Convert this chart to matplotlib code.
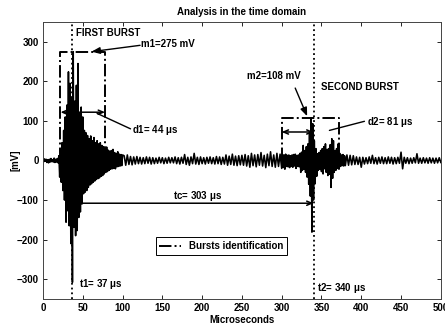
import matplotlib
matplotlib.use("Agg")
import matplotlib.pyplot as plt
import numpy as np

plt.rcParams['font.family'] = ['Liberation Sans', 'DejaVu Sans']
plt.rcParams['font.weight'] = 'bold'
plt.rcParams['mathtext.default'] = 'regular'

# signal, alternating local peaks (mV)
# segment: (start us, step us, values)
seg_pre = [2, -3, 4, -2, 3, -5, 2, -6, 3, -4, 5, -3, 2, -4, 6, -5, 3, -4, 5, -6]
seg_burst1 = [12, -42, 30, -55, 45, -76, 76, -100, 110, -156,
              140, -127, 224, -165, 195, -210, 160, -308, 275, -169,
              150, -190, 190, -177, 245, -144, 120, -130, 135, -110,
              110, -84, 76, -80, 70, -76, 63, -68, 55, -62,
              62, -59, 50, -55, 58, -52, 45, -48, 50, -46,
              42, -44, 45, -40, 38, -38, 35, -34, 30, -30,
              34, -28, 26, -25, 24, -22, 25, -21, 28, -20,
              20, -21, 18, -16, 22, -15, 16, -14, 15, -13, 14]
seg_mid = [12, -12, 14, -10, 10, -11, 9, -9, 10, -8,
           8, -9, 7, -8, 9, -7, 8, -9, 7, -8,
           6, -7, 8, -6, 7, -8, 6, -7, 8, -6,
           7, -6, 9, -8, 7, -9, 8, -7, 15, -10,
           8, -12, 9, -8, 18, -9, 8, -10, 9, -8,
           7, -9, 8, -7, 9, -8, 7, -9, 10, -8,
           9, -10, 8, -9, 14, -12, 11, -10, 16, -12,
           11, -13, 12, -11, 13, -12, 15, -14, 12, -17,
           18, -13, 14, -16, 15, -12, 20, -14, 13, -18,
           16, -13, 22, -15, 14, -17, 18, -15, 16]
seg_burst2 = [-20, 15, -18, 14, -22, 16, -15, 13, -16, 14,
              -18, 12, -15, 14, -17, 15, -14, 16, -20, 13,
              -15, 14, -16, 18, -30, 21, -25, 38, -22, 25,
              -30, 35, -42, 42, -60, 70, -90, 108, -181, 93,
              -100, 50, -59, 30, -40, 17, -25, 20, -22, 25,
              -28, 30, -34, 35, -21, 42, -30, 28, -38, 30,
              -35, 40, -68, 55, -45, 50, -30, 25, -25, 30,
              -20, 42, -22, 18, -15, 14, -13, 15, -14, 12, -13]
seg_post = [14, -12, 13, -11, 12, -10, 9, -10, 8, -17,
            8, -9, 7, -8, 9, -7, 13, -8, 7, -9,
            8, -7, 9, -8, 7, -8, 9, -7, 8, -9,
            7, -8, 8, -7, 21, -21, 8, -7, 7, -8,
            6, -7, 7, -6, 17, -7, 6, -7, 7, -6,
            6, -7, 7, -6, 6, -7, 6, -6, 7, -5]
segments = [(0, 1, seg_pre), (20, 1, seg_burst1), (102, 2, seg_mid),
            (300, 1, seg_burst2), (382, 2, seg_post)]

t_us = np.concatenate([s + d * np.arange(len(v)) for s, d, v in segments])
v_mv = np.concatenate([np.array(v, float) for s, d, v in segments])

# burst boxes: (start, end, max)
box1 = (22, 78, 275)
box2 = (300, 372, 108)
t1, t2 = 37, 340

fig = plt.figure(figsize=(4.45, 3.29), dpi=100)
ax = fig.add_axes([0.0966, 0.0912, 0.894, 0.842])

ax.plot(t_us, v_mv, color='black', lw=1.15)

for i, (a, b, m) in enumerate([box1, box2]):
    ax.plot([a, a, b, b], [0, m, m, 0], color='black', lw=1.4, ls='-.',
            label='Bursts identification' if i == 0 else None)

ax.axvline(t1, color='black', ls=':', lw=1.3)
ax.axvline(t2, color='black', ls=':', lw=1.3)

arr = dict(arrowstyle='<->,head_length=0.35,head_width=0.15', color='black', lw=1.1,
           shrinkA=0, shrinkB=0)
ax.annotate('', xy=(box1[0], 122), xytext=(box1[1], 122), arrowprops=arr)
ax.annotate('', xy=(box2[0], 72), xytext=(t2, 72), arrowprops=arr)
ax.annotate('', xy=(t1, -108), xytext=(t2, -108), arrowprops=arr)

fs = 7
one = dict(arrowstyle='-|>,head_length=0.5,head_width=0.2', color='black', lw=1.0,
           shrinkA=0, shrinkB=0)
plain = dict(arrowstyle='-', color='black', lw=1.0, shrinkA=0, shrinkB=0)

ax.text(41, 322, 'FIRST BURST', fontsize=fs, fontweight='bold', va='center')
ax.text(123, 294, 'm1=275 mV', fontsize=fs, fontweight='bold', va='center')
ax.annotate('', xy=(61, 275), xytext=(122, 291), arrowprops=one)
ax.text(112, 76, 'd1= 44 $\\mu$s', fontsize=fs, fontweight='bold', va='center')
ax.annotate('', xy=(68, 119), xytext=(110, 80), arrowprops=plain)

ax.text(350, 186, 'SECOND BURST', fontsize=fs, fontweight='bold', va='center')
ax.text(256, 214, 'm2=108 mV', fontsize=fs, fontweight='bold', va='center')
ax.annotate('', xy=(332, 112), xytext=(317, 183), arrowprops=one)
ax.text(407, 97, 'd2= 81 $\\mu$s', fontsize=fs, fontweight='bold', va='center')
ax.annotate('', xy=(360, 76), xytext=(404, 99), arrowprops=plain)

ax.text(194, -91, 'tc= 303 $\\mu$s', fontsize=fs, fontweight='bold', ha='center', va='center')
ax.text(45, -312, 't1= 37 $\\mu$s', fontsize=fs, fontweight='bold', va='center')
ax.text(344, -322, 't2= 340 $\\mu$s', fontsize=fs, fontweight='bold', va='center')

ax.set_xlim(0, 500)
ax.set_ylim(-350, 350)
ax.set_xticks(np.arange(0, 501, 50))
ax.set_yticks(np.arange(-300, 301, 100))
ax.tick_params(direction='in', top=True, right=True, length=3, width=0.6,
               labelsize=fs, pad=3)
for lab in ax.get_xticklabels() + ax.get_yticklabels():
    lab.set_fontweight('bold')
for sp in ax.spines.values():
    sp.set_linewidth(0.7)
    sp.set_color('#444444')

ax.set_title('Analysis in the time domain', fontsize=fs, fontweight='bold', pad=5)
ax.set_xlabel('Microseconds', fontsize=fs, fontweight='bold', labelpad=1)
ax.set_ylabel('[mV]', fontsize=fs, fontweight='bold', labelpad=-3)

leg = ax.legend(loc='center', bbox_to_anchor=(0.448, 0.19), fontsize=fs,
                frameon=True, fancybox=False, edgecolor='black', framealpha=1,
                handlelength=2.2, borderpad=0.4, handletextpad=0.8)
leg.get_frame().set_linewidth(0.7)
for txt in leg.get_texts():
    txt.set_fontweight('bold')

fig.savefig('out.png', dpi=100)
